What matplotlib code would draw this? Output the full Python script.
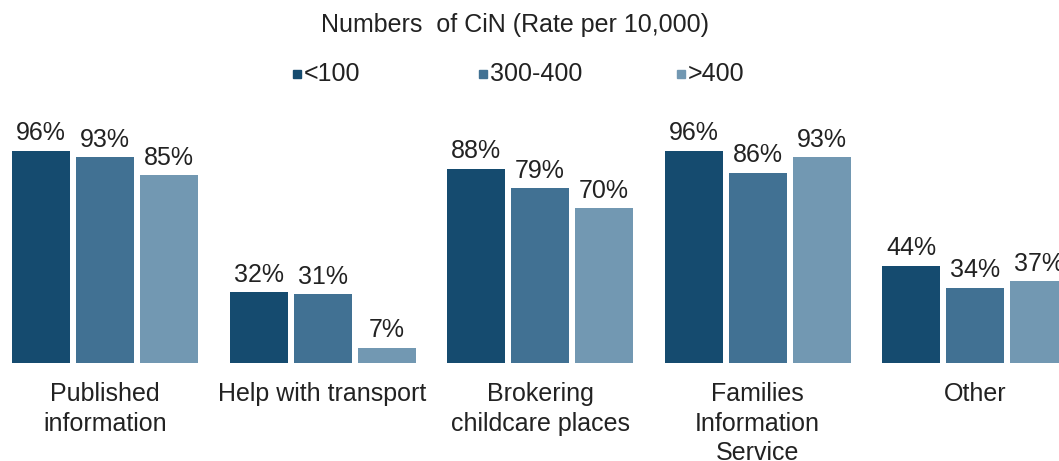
import matplotlib
matplotlib.use("Agg")
import matplotlib.pyplot as plt
from matplotlib.patches import Rectangle
import numpy as np

plt.rcParams['font.family'] = ['Liberation Sans', 'DejaVu Sans']

categories = ["Published\ninformation", "Help with transport", "Brokering\nchildcare places",
              "Families\nInformation\nService", "Other"]
series_names = ["<100", "300-400", ">400"]
s_lt100 = [96, 32, 88, 96, 44]
s_300_400 = [93, 31, 79, 86, 34]
s_gt400 = [85, 7, 70, 93, 37]
series = [s_lt100, s_300_400, s_gt400]
colors = ["#154b6f", "#417193", "#7298b2"]

FS = 18
W, H = 1059, 461
fig = plt.figure(figsize=(W / 100, H / 100), dpi=100)
ax = fig.add_axes([0, (H - 363) / H, 1, (363 - 142) / H])

x = np.arange(len(categories))
bw = 58 / 217.5
step = 64 / 217.5
for i, (vals, c) in enumerate(zip(series, colors)):
    pos = x + (i - 1) * step
    ax.bar(pos, vals, width=bw, color=c)
    for p, v in zip(pos, vals):
        ax.annotate(f"{v}%", (p, v), xytext=(0, 4), textcoords="offset points",
                    ha="center", va="bottom", fontsize=FS, color="#222222",
                    annotation_clip=False)

ax.set_xlim(-105 / 217.5, (W - 105) / 217.5)
ax.set_ylim(0, 100)
ax.set_xticks(x)
ax.set_xticklabels(categories, fontsize=FS, color="#222222", linespacing=1.27)
ax.tick_params(axis='x', length=0, pad=14)
ax.set_yticks([])
for s in ax.spines.values():
    s.set_visible(False)

fig.text(515 / W, 1 - 25 / H, "Numbers  of CiN (Rate per 10,000)", ha="center", va="center",
         fontsize=FS, color="#222222")

leg_x = [293, 479, 677]
ly = 74
for lx, name, c in zip(leg_x, series_names, colors):
    fig.add_artist(Rectangle((lx / W, 1 - (ly + 4) / H), 8 / W, 8 / H,
                             transform=fig.transFigure, color=c))
    fig.text((lx + 11) / W, 1 - ly / H, name, ha="left", va="center",
             fontsize=FS, color="#222222")

fig.savefig("out.png", dpi=100, facecolor="white")
